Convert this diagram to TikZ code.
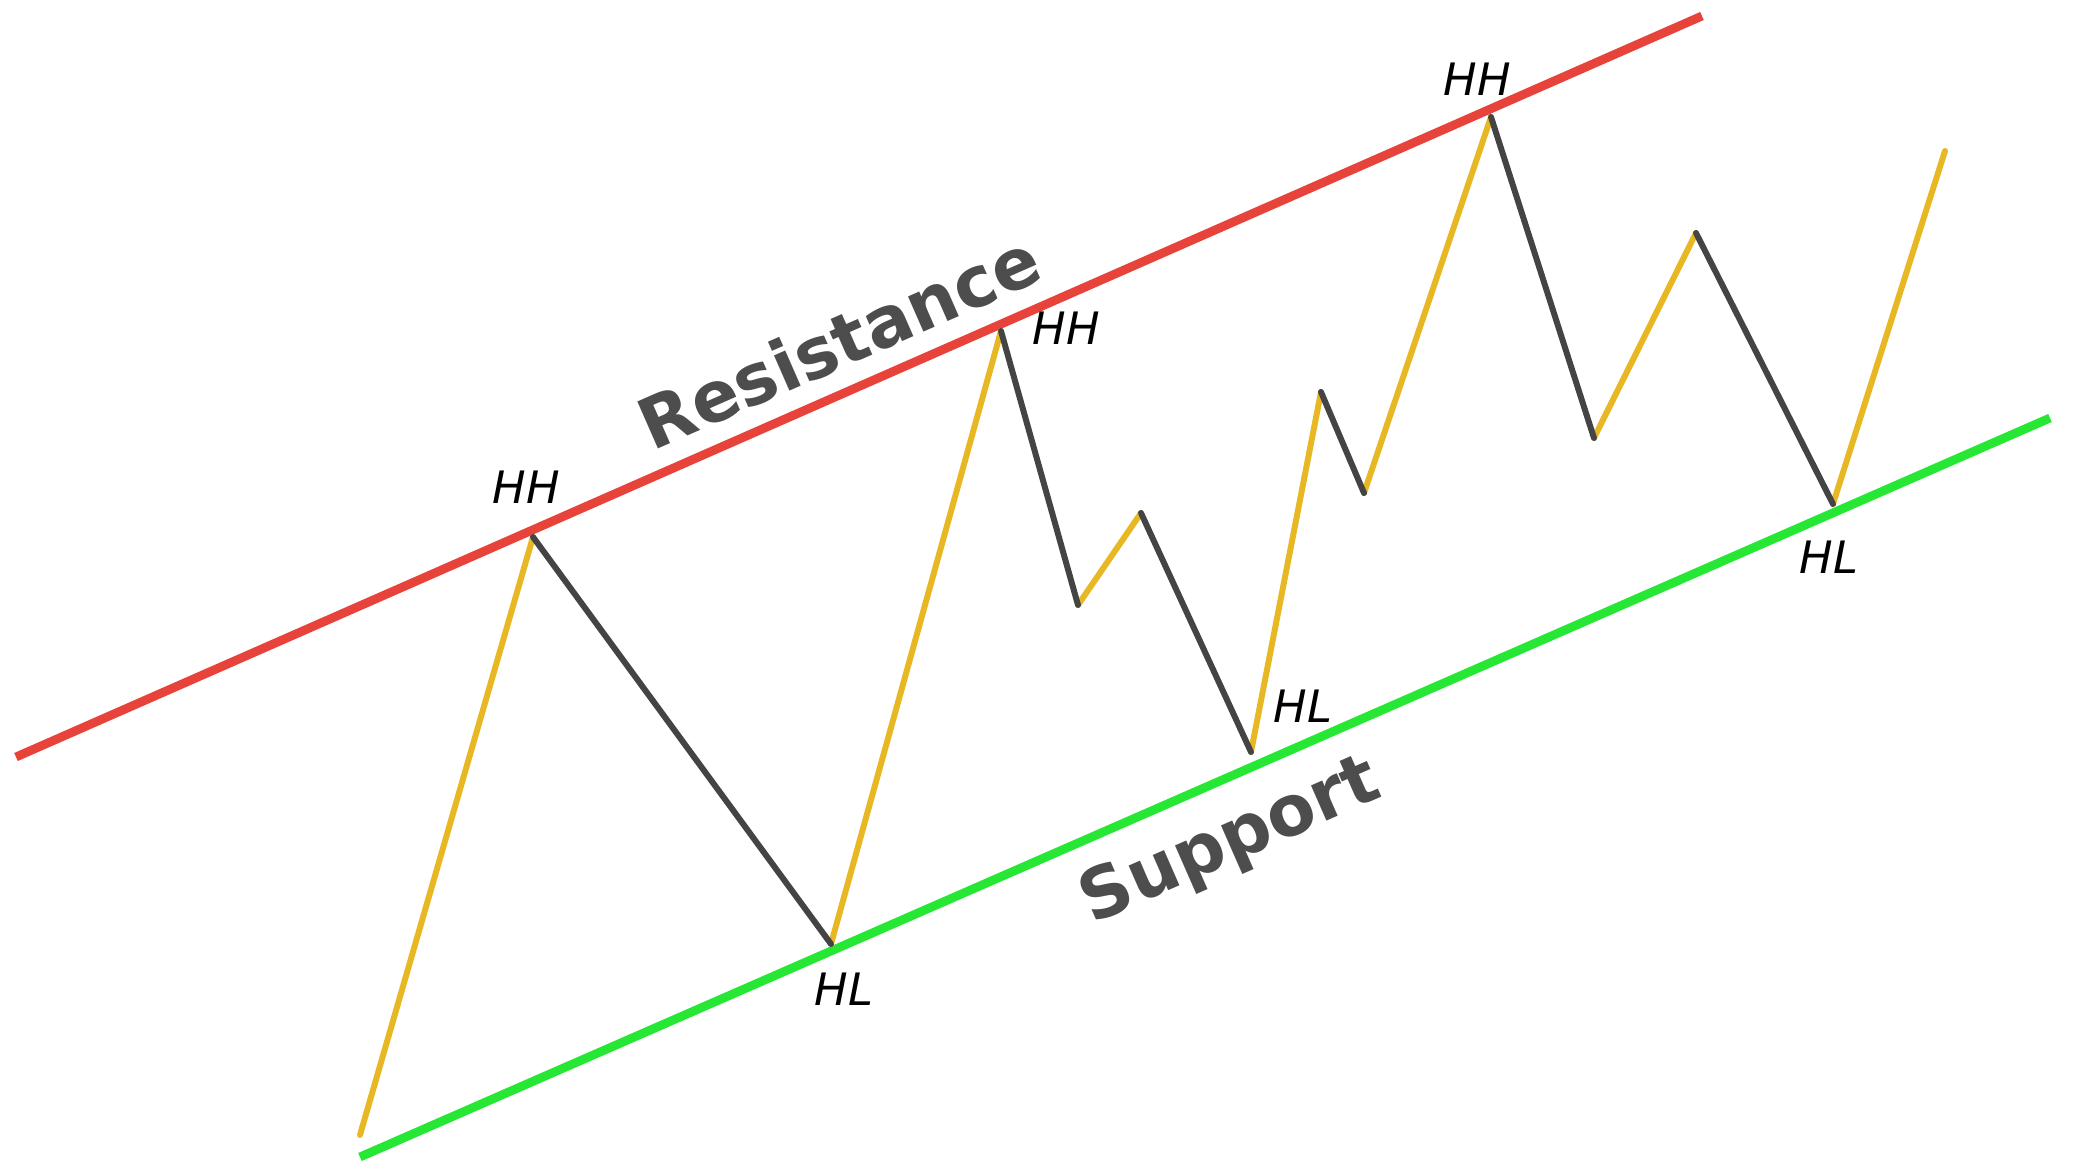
\documentclass[tikz,border=0pt]{standalone}
\usepackage{fontspec}
\setmainfont{DejaVu Sans}

\definecolor{resred}{RGB}{232,67,58}
\definecolor{supgreen}{RGB}{38,232,52}
\definecolor{upgold}{RGB}{232,184,36}
\definecolor{downgray}{RGB}{68,68,68}
\definecolor{labelgray}{RGB}{77,77,77}

\begin{document}
\begin{tikzpicture}[x=0.01cm, y=0.01cm,
	trendline/.style={line width=2.5pt},
	rise/.style={upgold, line width=1.7pt, line cap=round},
	fall/.style={downgray, line width=1.7pt, line cap=round},
	swinglabel/.style={font=\itshape\fontsize{12.7}{14}\selectfont, inner sep=0pt},
	zonelabel/.style={font=\bfseries\fontsize{20}{22}\selectfont, text=labelgray}]
	\useasboundingbox (0,0) rectangle (2074,1172);
	% zone names, turned with the canvas
	\begin{scope}[transform canvas={rotate around={23.7:(839,831)}}]
		\node[zonelabel] (res) at (839,831) {Resistance};
	\end{scope}
	\begin{scope}[transform canvas={rotate around={23.7:(1231,329)}}]
		\node[zonelabel] (sup) at (1231,329) {Support};
	\end{scope}
	% channel
	\coordinate (r0) at (16,415);
	\coordinate (r1) at (1702,1156);
	\coordinate (s0) at (360,15);
	\coordinate (s1) at (2050,754);
	\draw[trendline, resred] (r0) -- (r1);
	\draw[trendline, supgreen] (s0) -- (s1);
	% price swings
	\coordinate (p0) at (360,37);
	\coordinate (p1) at (533,635);
	\coordinate (p2) at (831,228);
	\coordinate (p3) at (1001,841);
	\coordinate (p4) at (1078,567);
	\coordinate (p5) at (1141,659);
	\coordinate (p6) at (1251,420);
	\coordinate (p7) at (1321,780);
	\coordinate (p8) at (1364,679);
	\coordinate (p9) at (1491,1055);
	\coordinate (p10) at (1594,734);
	\coordinate (p11) at (1696,939);
	\coordinate (p12) at (1833,668);
	\coordinate (p13) at (1945,1021);
	\foreach \a/\b in {p0/p1, p2/p3, p4/p5, p6/p7, p8/p9, p10/p11, p12/p13}
		\draw[rise] (\a) -- (\b);
	\foreach \a/\b in {p1/p2, p3/p4, p5/p6, p7/p8, p9/p10, p11/p12}
		\draw[fall] (\a) -- (\b);
	% swing labels
	\node[swinglabel] (hh1) at (526,685) {HH};
	\node[swinglabel] (hh2) at (1066,844) {HH};
	\node[swinglabel] (hh3) at (1477,1093) {HH};
	\node[swinglabel] (hl1) at (844,183) {HL};
	\node[swinglabel] (hl2) at (1303,466) {HL};
	\node[swinglabel] (hl3) at (1829,615) {HL};
\end{tikzpicture}
\end{document}
